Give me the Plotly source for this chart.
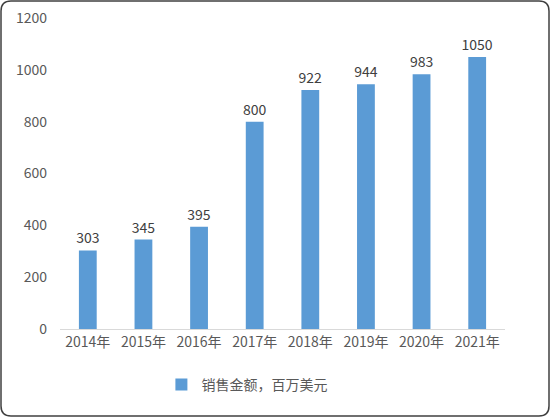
import plotly.graph_objects as go

years = ["2014年", "2015年", "2016年", "2017年", "2018年", "2019年", "2020年", "2021年"]
sales = [303, 345, 395, 800, 922, 944, 983, 1050]
series_name = "销售金额，百万美元"

W, H = 551, 418
ml, mr, mt, mb = 60, 46, 18, 89
pw, ph = W - ml - mr, H - mt - mb

font = "Noto Sans CJK SC, Noto Sans, sans-serif"
grey = "#595959"
blue = "#5B9BD5"

fig = go.Figure()
fig.add_trace(
    go.Bar(
        x=years,
        y=sales,
        name=series_name,
        marker=dict(color=blue, line=dict(width=0)),
        text=sales,
        textposition="outside",
        constraintext="none",
        textfont=dict(size=14, color="#404040"),
        cliponaxis=False,
    )
)

# rounded outer border, drawn in paper coords
x0, x1 = (1 - ml) / pw, 1 + (mr - 2) / pw
y0, y1 = -(mb - 2) / ph, 1 + (mt - 1) / ph
rx, ry = 10 / pw, 10 / ph
path = (
    f"M {x0+rx},{y1} L {x1-rx},{y1} Q {x1},{y1} {x1},{y1-ry} "
    f"L {x1},{y0+ry} Q {x1},{y0} {x1-rx},{y0} "
    f"L {x0+rx},{y0} Q {x0},{y0} {x0},{y0+ry} "
    f"L {x0},{y1-ry} Q {x0},{y1} {x0+rx},{y1} Z"
)
fig.add_shape(type="path", path=path, xref="paper", yref="paper",
              line=dict(color="#404040", width=1.5))

fig.update_layout(
    width=W,
    height=H,
    margin=dict(l=ml, r=mr, t=mt, b=mb, autoexpand=False),
    paper_bgcolor="white",
    plot_bgcolor="white",
    font=dict(family=font, color=grey, size=14),
    bargap=0.68,
    showlegend=True,
    legend=dict(orientation="h", x=0.42, xanchor="center",
                yref="container", y=1 - 385 / H, yanchor="middle",
                itemwidth=30, font=dict(size=14, color=grey)),
    xaxis=dict(showline=True, linecolor="#D9D9D9", linewidth=1, ticks="",
               tickfont=dict(size=14, color=grey)),
    yaxis=dict(range=[0, 1200], dtick=200, showgrid=False, zeroline=False,
               showline=False, ticks="", ticklabelstandoff=12,
               tickfont=dict(size=14, color=grey)),
)

fig.write_html("out.html", config={"displayModeBar": False},
               post_script="document.body.style.margin='0';")
